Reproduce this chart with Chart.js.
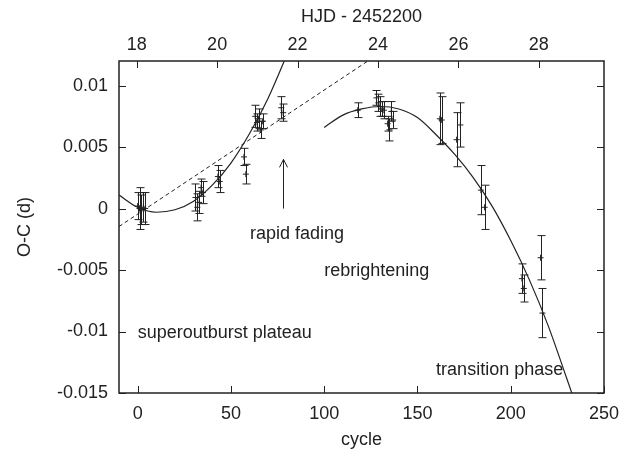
<!DOCTYPE html>
<html>
<head>
<meta charset="utf-8">
<script src="https://cdn.jsdelivr.net/npm/chart.js@4/dist/chart.umd.min.js"></script>
<style>
  html, body { margin: 0; padding: 0; background: #fff; }
  #wrap { width: 624px; height: 449px; }
</style>
</head>
<body>
<div id="wrap"><canvas id="ocChart" width="624" height="449"></canvas></div>
<script>
// O-C measurements (cycle, O-C in days, 1-sigma error)
const cycles = [0, 1, 2, 3, 4, 31, 32, 33, 34, 35, 43, 44, 57, 58, 63, 64, 65, 66, 67, 77, 78,
  118, 128, 129, 130, 131, 132, 134, 135, 136, 137, 162, 163, 171, 173, 184, 186, 206, 207, 216, 217];
const ocValues = [0.0002, 0.0000, -0.0001, 0.0001, 0.0000, 0.0009, 0.0001, 0.0005, 0.0017, 0.0013,
  0.0026, 0.0022, 0.0042, 0.0028, 0.0075, 0.0070, 0.0073, 0.0064, 0.0071, 0.0082, 0.0078,
  0.0080, 0.0090, 0.0086, 0.0083, 0.0081, 0.0080, 0.0069, 0.0064, 0.0079, 0.0072,
  0.0073, 0.0072, 0.0056, 0.0068, 0.0015, 0.0001, -0.0057, -0.0065, -0.0040, -0.0085];
const ocErrors = [0.0011, 0.0017, 0.0012, 0.0012, 0.0013, 0.0011, 0.0011, 0.0009, 0.0007, 0.0009,
  0.0009, 0.0009, 0.0007, 0.0008, 0.0009, 0.0007, 0.0008, 0.0007, 0.0006, 0.0009, 0.0007,
  0.0006, 0.0006, 0.0007, 0.0008, 0.0006, 0.0007, 0.0006, 0.0009, 0.0008, 0.0007,
  0.0021, 0.0019, 0.0022, 0.0018, 0.0020, 0.0018, 0.0012, 0.0011, 0.0018, 0.0020];

// fitted curves
const plateauFitCycle = [-10, 0, 10, 20, 30, 40, 50, 60, 70, 80];
const plateauFitValue = [0.0011, 0.0001, -0.0003, -0.0001, 0.0006, 0.0019, 0.0037, 0.0061, 0.0090, 0.0125];
const linearFitCycle = [-10, 125];
const linearFitValue = [-0.00146, 0.01216];
const rebrightFitCycle = [100, 110, 120, 130, 140, 150, 160, 170, 180, 190, 200, 210, 220, 230, 235];
const rebrightFitValue = [0.0066, 0.0076, 0.0081, 0.0083, 0.0081, 0.0074, 0.0060, 0.0044, 0.0025,
  0.0002, -0.0026, -0.0058, -0.0095, -0.0138, -0.0160];

// axes
const xTicks = [0, 50, 100, 150, 200, 250];
const yTicks = [-0.015, -0.01, -0.005, 0, 0.005, 0.01];
const hjdTicks = [18, 20, 22, 24, 26, 28];
const cycleRange = [-10, 250];
const ocRange = [-0.015, 0.012];
const hjdRange = [17.56, 29.62];

// annotations
const noteTexts = ['rapid fading', 'rebrightening', 'superoutburst plateau', 'transition phase'];
const noteCycles = [60.2, 100, 0, 160];
const noteValues = [-0.0021, -0.0051, -0.0101, -0.0131];
const arrowCycle = 78;
const arrowFrom = 0;
const arrowTo = 0.004;

const ink = '#222';
Chart.defaults.font.family = '"Liberation Sans", Arial, Helvetica, sans-serif';
Chart.defaults.font.size = 18;
Chart.defaults.color = ink;

function toPoints(xs, ys) {
  return xs.map((v, i) => ({ x: v, y: ys[i] }));
}

const overlay = {
  id: 'overlay',
  afterDatasetsDraw(chart) {
    const { ctx, chartArea: a, scales } = chart;
    const x = scales.x, y = scales.y, x2 = scales.x2;
    ctx.save();
    ctx.strokeStyle = ink;
    ctx.lineWidth = 1;

    // error bars
    cycles.forEach((c, i) => {
      const px = Math.round(x.getPixelForValue(c)) + 0.5;
      const top = y.getPixelForValue(ocValues[i] + ocErrors[i]);
      const bot = y.getPixelForValue(ocValues[i] - ocErrors[i]);
      ctx.beginPath();
      ctx.moveTo(px, top); ctx.lineTo(px, bot);
      ctx.moveTo(px - 4, top); ctx.lineTo(px + 4, top);
      ctx.moveTo(px - 4, bot); ctx.lineTo(px + 4, bot);
      ctx.stroke();
    });

    // arrow
    const ax = Math.round(x.getPixelForValue(arrowCycle)) + 0.5;
    const ay1 = y.getPixelForValue(arrowFrom);
    const ay2 = y.getPixelForValue(arrowTo);
    ctx.beginPath();
    ctx.moveTo(ax, ay1); ctx.lineTo(ax, ay2);
    ctx.moveTo(ax - 4, ay2 + 8); ctx.lineTo(ax, ay2); ctx.lineTo(ax + 4, ay2 + 8);
    ctx.stroke();

    // annotation texts
    ctx.fillStyle = ink;
    ctx.font = '18px "Liberation Sans", Arial, sans-serif';
    ctx.textAlign = 'left';
    ctx.textBaseline = 'middle';
    noteTexts.forEach((t, i) => {
      ctx.fillText(t, x.getPixelForValue(noteCycles[i]), y.getPixelForValue(noteValues[i]));
    });

    // inward tick marks on all four sides
    const tl = 7;
    ctx.beginPath();
    xTicks.forEach(v => {
      const px = Math.round(x.getPixelForValue(v)) + 0.5;
      ctx.moveTo(px, a.bottom); ctx.lineTo(px, a.bottom - tl);
    });
    hjdTicks.forEach(v => {
      const px = Math.round(x2.getPixelForValue(v)) + 0.5;
      ctx.moveTo(px, a.top); ctx.lineTo(px, a.top + tl);
    });
    yTicks.forEach(v => {
      const py = Math.round(y.getPixelForValue(v)) + 0.5;
      ctx.moveTo(a.left, py); ctx.lineTo(a.left + tl, py);
      ctx.moveTo(a.right, py); ctx.lineTo(a.right - tl, py);
    });
    ctx.stroke();

    // frame
    ctx.lineWidth = 1.5;
    ctx.strokeRect(a.left, a.top, a.right - a.left, a.bottom - a.top);
    ctx.restore();
  }
};

const ctxOC = document.getElementById('ocChart').getContext('2d');
const ocChart = new Chart(ctxOC, {
  type: 'scatter',
  data: {
    datasets: [
      {
        label: 'O-C',
        data: toPoints(cycles, ocValues),
        pointStyle: 'cross',
        pointRadius: 3,
        borderColor: ink,
        borderWidth: 1
      },
      {
        label: 'plateau fit',
        data: toPoints(plateauFitCycle, plateauFitValue),
        showLine: true,
        pointRadius: 0,
        borderColor: ink,
        borderWidth: 1.2,
        cubicInterpolationMode: 'monotone'
      },
      {
        label: 'linear fit',
        data: toPoints(linearFitCycle, linearFitValue),
        showLine: true,
        pointRadius: 0,
        borderColor: ink,
        borderWidth: 1,
        borderDash: [4, 3]
      },
      {
        label: 'rebrightening fit',
        data: toPoints(rebrightFitCycle, rebrightFitValue),
        showLine: true,
        pointRadius: 0,
        borderColor: ink,
        borderWidth: 1.2,
        cubicInterpolationMode: 'monotone'
      }
    ]
  },
  options: {
    responsive: false,
    animation: false,
    layout: { padding: { left: 0, right: 20, top: 0, bottom: 0 } },
    plugins: {
      legend: { display: false },
      tooltip: { enabled: false }
    },
    scales: {
      x: {
        type: 'linear',
        position: 'bottom',
        min: cycleRange[0],
        max: cycleRange[1],
        grid: { display: false },
        border: { display: false },
        ticks: { padding: 2, maxRotation: 0 },
        afterBuildTicks: s => { s.ticks = xTicks.map(v => ({ value: v })); },
        afterFit: s => { s.height = 56; },
        title: { display: true, text: 'cycle', padding: { top: 0, bottom: -2 } }
      },
      x2: {
        type: 'linear',
        position: 'top',
        min: hjdRange[0],
        max: hjdRange[1],
        grid: { display: false },
        border: { display: false },
        ticks: { padding: -3, maxRotation: 0 },
        afterBuildTicks: s => { s.ticks = hjdTicks.map(v => ({ value: v })); },
        afterFit: s => { s.height = 61; },
        title: { display: true, text: 'HJD - 2452200', padding: { top: 6, bottom: 0 } }
      },
      y: {
        type: 'linear',
        position: 'left',
        min: ocRange[0],
        max: ocRange[1],
        grid: { display: false },
        border: { display: false },
        ticks: {
          padding: 3,
          callback: v => String(+Number(v).toFixed(3))
        },
        afterBuildTicks: s => { s.ticks = yTicks.map(v => ({ value: v })); },
        afterFit: s => { s.width = 119; },
        title: { display: true, text: 'O-C (d)', padding: { top: 14, bottom: 0 } }
      }
    }
  },
  plugins: [overlay]
});
</script>
</body>
</html>
